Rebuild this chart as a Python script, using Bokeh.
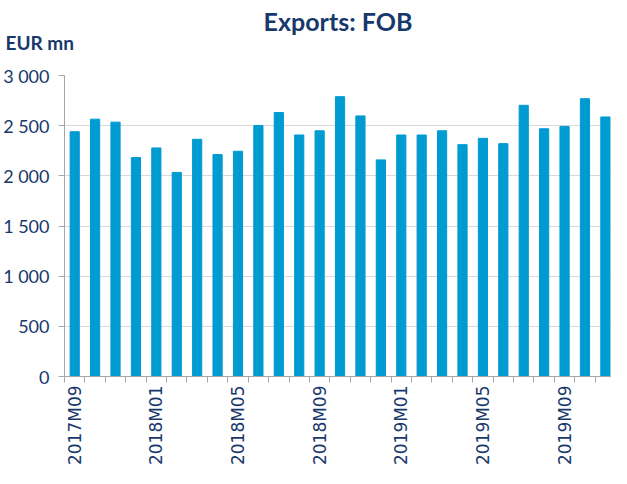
import math
from bokeh.plotting import figure
from bokeh.models import ColumnDataSource, FixedTicker, Range1d, Title
from bokeh.embed import file_html
from bokeh.resources import INLINE

months = ["2017M09", "2017M10", "2017M11", "2017M12",
          "2018M01", "2018M02", "2018M03", "2018M04", "2018M05", "2018M06",
          "2018M07", "2018M08", "2018M09", "2018M10", "2018M11", "2018M12",
          "2019M01", "2019M02", "2019M03", "2019M04", "2019M05", "2019M06",
          "2019M07", "2019M08", "2019M09", "2019M10", "2019M11"]
exports = [2440, 2565, 2535, 2182, 2278, 2034, 2364, 2212, 2245, 2502,
           2631, 2407, 2449, 2789, 2597, 2159, 2407, 2407, 2449, 2311,
           2374, 2321, 2703, 2469, 2492, 2769, 2587]
y_ticks = [0, 500, 1000, 1500, 2000, 2500, 3000]
y_tick_labels = ["0", "500", "1 000", "1 500", "2 000", "2 500", "3 000"]
label_every = 4
title_text = "Exports: FOB"
unit_text = "EUR mn"

NAVY = "#17386B"
BAR = "#009BD0"
GRID = "#D9D9D9"
AXIS = "#A6A6A6"

W, H = 611, 468
LEFT, TOP = 59, 75

idx = list(range(len(months)))
src = ColumnDataSource(dict(x=idx, top=exports, month=months))
xr = Range1d(-0.5, len(months) - 0.7)
yr = Range1d(0, 3000)

p = figure(width=W, height=H, output_backend="svg", toolbar_location=None,
           x_range=xr, y_range=yr,
           min_border_left=LEFT, min_border_right=0, min_border_top=TOP,
           min_border_bottom=10)

# unit label (closest to the plot), then the main title above it
p.add_layout(Title(text=unit_text, align="left", offset=-LEFT, standoff=44,
                   text_font="Lato", text_font_size="19px",
                   text_font_style="bold", text_color=NAVY), "above")
p.add_layout(Title(text=title_text, align="center", standoff=-59,
                   text_font="Lato", text_font_size="25px",
                   text_font_style="bold", text_color=NAVY), "above")

p.vbar(x="x", top="top", width=0.45, source=src, fill_color=BAR, line_color=BAR)

p.outline_line_color = None
p.xgrid.grid_line_color = None
p.ygrid.grid_line_color = GRID
p.ygrid.grid_line_width = 1

# x axis: labels every 4th month, tick marks at category boundaries
major = idx[::label_every]
boundaries = [i - 0.5 for i in idx]
p.xaxis.ticker = FixedTicker(ticks=major, minor_ticks=boundaries)
p.xaxis.major_label_overrides = {i: months[i] for i in major}
p.xaxis.major_label_orientation = math.pi / 2
p.xaxis.major_tick_out = 0
p.xaxis.major_tick_in = 0
p.xaxis.minor_tick_out = 6
p.xaxis.minor_tick_in = 0
p.xaxis.minor_tick_line_color = AXIS
p.xaxis.axis_line_color = AXIS
p.xaxis.major_label_standoff = 3
p.xaxis.major_label_text_font = "DejaVu Sans"
p.xaxis.major_label_text_font_size = "17px"
p.xaxis.major_label_text_color = NAVY

p.yaxis.ticker = FixedTicker(ticks=y_ticks)
p.yaxis.major_label_overrides = {t: l for t, l in zip(y_ticks, y_tick_labels)}
p.yaxis.major_tick_out = 6
p.yaxis.major_tick_in = 0
p.yaxis.minor_tick_line_color = None
p.yaxis.major_tick_line_color = AXIS
p.yaxis.axis_line_color = AXIS
p.yaxis.major_label_standoff = 9
p.yaxis.major_label_text_font = "Lato"
p.yaxis.major_label_text_font_size = "18px"
p.yaxis.major_label_text_color = NAVY

open("out.html", "w").write(file_html(p, INLINE))
